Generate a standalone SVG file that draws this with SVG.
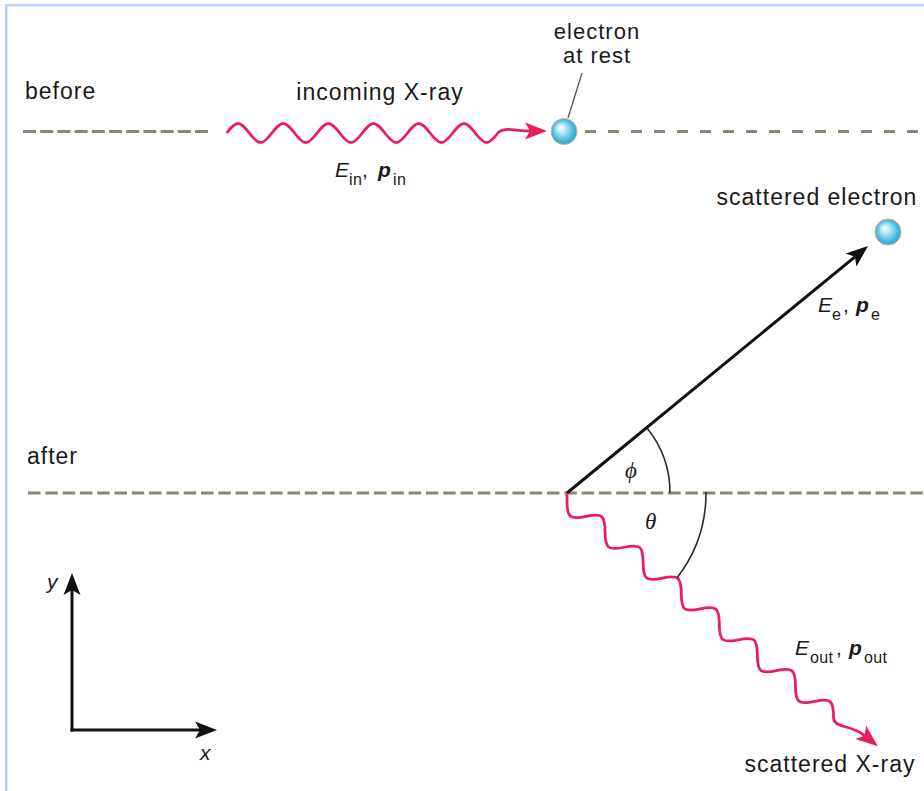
<svg xmlns="http://www.w3.org/2000/svg" width="924" height="791" viewBox="0 0 924 791">
<style>
  .lbl { font-family: "Liberation Sans", Arial, Helvetica, sans-serif; font-size: 23px; fill: #1a1a1a; letter-spacing: 1px; }
  .lbl2 { font-family: "Liberation Sans", Arial, Helvetica, sans-serif; font-size: 22px; fill: #1a1a1a; letter-spacing: 1px; }
  .math { font-family: "Liberation Sans", Arial, Helvetica, sans-serif; font-size: 21px; fill: #1a1a1a; font-style: italic; }
  .bold { font-weight: bold; }
  .sub { font-family: "Liberation Sans", Arial, Helvetica, sans-serif; font-size: 16px; fill: #1a1a1a; font-style: normal; letter-spacing: 0.4px; }
  .greek { font-family: "Liberation Serif", "Times New Roman", serif; font-size: 23px; font-style: italic; fill: #1a1a1a; }
  .dash { stroke: #8b8674; stroke-width: 3; fill: none; }
  .wave { stroke: #e91e5a; stroke-width: 2.8; fill: none; stroke-linejoin: round; }
  .blk { stroke: #111; stroke-width: 3; fill: none; }
  .arc { stroke: #2a2a2a; stroke-width: 1.6; fill: none; }
  .ball { fill: url(#eball); stroke: #c9b98f; stroke-width: 1; }
</style>
<defs>
  <radialGradient id="eball" cx="0.5" cy="0.5" r="0.55" fx="0.36" fy="0.33">
    <stop offset="0" stop-color="#ffffff"/>
    <stop offset="0.3" stop-color="#b8e9f6"/>
    <stop offset="0.75" stop-color="#44b8da"/>
    <stop offset="1" stop-color="#1f9cc4"/>
  </radialGradient>
  <marker id="ahBlack" markerUnits="userSpaceOnUse" markerWidth="24" markerHeight="20" viewBox="-1 -10 24 20" refX="5" refY="0" orient="auto">
    <path d="M0,-8.5 L22,0 L0,8.5 L5,0 Z" fill="#111"/>
  </marker>
  <marker id="ahRed" markerUnits="userSpaceOnUse" markerWidth="24" markerHeight="20" viewBox="-1 -10 24 20" refX="5" refY="0" orient="auto">
    <path d="M0,-8.5 L22,0 L0,8.5 L5,0 Z" fill="#e91e5a"/>
  </marker>
</defs>

<rect x="0" y="0" width="924" height="791" fill="#ffffff"/>
<!-- frame -->
<g id="frame">
  <line x1="6" y1="5.3" x2="924" y2="5.3" stroke="#b9d4ec" stroke-width="2.6"/>
  <line x1="6.2" y1="4" x2="6.2" y2="791" stroke="#b9d4ec" stroke-width="2.6"/>
</g>

<g id="connectors">
  <!-- before baseline dashed -->
  <line class="dash" x1="23" y1="131.5" x2="209" y2="131.5" stroke-dasharray="13 4.2"/>
  <line class="dash" x1="585" y1="131.5" x2="924" y2="131.5" stroke-dasharray="11 12"/>
  <!-- after baseline dashed -->
  <line class="dash" x1="28" y1="493" x2="924" y2="493" stroke-dasharray="12.5 4.8"/>

  <!-- incoming X-ray wave -->
  <path id="incoming-wave" class="wave" marker-end="url(#ahRed)"
    d="M226.7,133 c 9.59,-12.67 13.01,-12.67 22.6,0 s 13.01,12.67 22.6,0 s 13.01,-12.67 22.6,0 s 13.01,12.67 22.6,0 s 13.01,-12.67 22.6,0 s 13.01,12.67 22.6,0 s 13.01,-12.67 22.6,0 s 13.01,12.67 22.6,0 s 13.01,-12.67 22.6,0 s 13.01,12.67 22.6,0 s 13.01,-12.67 22.6,0 s 13.01,12.67 22.6,0 C 503,126.4 515,131 530,131"/>

  <!-- leader to electron at rest -->
  <line x1="568" y1="118" x2="582" y2="73" stroke="#555" stroke-width="1.3"/>

  <!-- scattered electron arrow -->
  <line id="electron-arrow" class="blk" x1="567" y1="493" x2="854.9" y2="256.8" marker-end="url(#ahBlack)"/>

  <!-- scattered X-ray wave -->
  <g transform="translate(567,501) rotate(39)">
    <path id="scattered-wave" class="wave" marker-end="url(#ahRed)"
      d="M-5.03,-6.22 L0,0 c 10.4,12.8 14.1,12.8 24.5,0 s 14.1,-12.8 24.5,0 s 14.1,12.8 24.5,0 s 14.1,-12.8 24.5,0 s 14.1,12.8 24.5,0 s 14.1,-12.8 24.5,0 s 14.1,12.8 24.5,0 s 14.1,-12.8 24.5,0 s 14.1,12.8 24.5,0 s 14.1,-12.8 24.5,0 s 14.1,12.8 24.5,0 s 14.1,-12.8 24.5,0 s 14.1,12.8 24.5,0 s 14.1,-12.8 24.5,0 C 350,9.5 360,-5 379,-5"/>
  </g>

  <!-- angle arcs -->
  <path id="arc-phi" class="arc" d="M670,493 A103,103 0 0 0 647,428"/>
  <path id="arc-theta" class="arc" d="M706,492 A139,139 0 0 1 677.1,577.8"/>

  <!-- axes -->
  <line class="blk" x1="72" y1="731.5" x2="72" y2="590" marker-end="url(#ahBlack)"/>
  <line class="blk" x1="70.5" y1="730" x2="200" y2="730" marker-end="url(#ahBlack)"/>
</g>

<g id="label-before"><text class="lbl" x="25" y="99">before</text></g>
<g id="label-after"><text class="lbl" x="27" y="464">after</text></g>

<g id="node-electron-rest">
  <circle class="ball" cx="564" cy="131.5" r="13"/>
  <text class="lbl2" x="597" y="39" text-anchor="middle">electron</text>
  <text class="lbl2" x="597" y="63" text-anchor="middle">at rest</text>
</g>

<g id="node-incoming-xray">
  <text class="lbl" x="380" y="100" text-anchor="middle">incoming X-ray</text>
  <text class="math"><tspan x="335" y="177">E</tspan><tspan class="sub" x="349" y="185">in</tspan><tspan x="362" y="177" font-style="normal">,</tspan><tspan class="bold" x="378" y="177">p</tspan><tspan class="sub" x="393" y="185">in</tspan></text>
</g>

<g id="node-scattered-electron">
  <circle class="ball" cx="888" cy="232" r="13"/>
  <text class="lbl" x="817" y="205" text-anchor="middle">scattered electron</text>
  <text class="math"><tspan x="818" y="312">E</tspan><tspan class="sub" x="832" y="320">e</tspan><tspan x="843" y="312" font-style="normal">,</tspan><tspan class="bold" x="856" y="312">p</tspan><tspan class="sub" x="871" y="320">e</tspan></text>
</g>

<g id="node-scattered-xray">
  <text class="lbl" x="830" y="772" text-anchor="middle">scattered X-ray</text>
  <text class="math"><tspan x="795" y="655">E</tspan><tspan class="sub" x="810" y="663">out</tspan><tspan x="836" y="655" font-style="normal">,</tspan><tspan class="bold" x="849" y="655">p</tspan><tspan class="sub" x="864" y="663">out</tspan></text>
</g>

<g id="label-phi"><text class="greek" x="625" y="478">ϕ</text></g>
<g id="label-theta"><text class="greek" x="645" y="529">θ</text></g>

<g id="axis-labels">
  <text class="math" x="47" y="589">y</text>
  <text class="math" x="200" y="760">x</text>
</g>
</svg>
